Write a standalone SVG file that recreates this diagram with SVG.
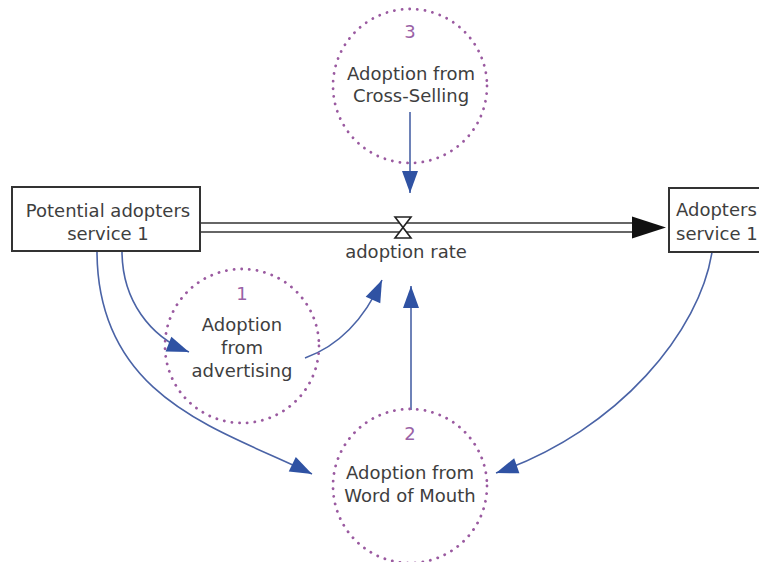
<svg xmlns="http://www.w3.org/2000/svg" width="759" height="562" viewBox="0 0 759 562">
<style>
text{font-family:"DejaVu Sans","Liberation Sans",sans-serif;font-size:18px;fill:#3e3e3e}
.num{fill:#9a62a6}
.c{text-anchor:middle}
.box{fill:#fff;stroke:#333;stroke-width:2}
.cloud{fill:none;stroke:#9a5aa0;stroke-width:2.8;stroke-dasharray:0.1 7.6;stroke-linecap:round}
.link{fill:none;stroke:#4a63a6;stroke-width:1.6}
.pipe{stroke:#333;stroke-width:1.6}
</style>
<defs>
<marker id="ah" markerUnits="userSpaceOnUse" markerWidth="30" markerHeight="22" viewBox="-24 -11 26 22" refX="0" refY="0" orient="auto">
<path d="M0,0 L-22,-8 L-22,8 Z" fill="#2f52a3"/>
</marker>
</defs>
<rect width="759" height="562" fill="#fff"/>
<g id="connectors">
<line class="pipe" x1="200" y1="223" x2="636" y2="223"/>
<line class="pipe" x1="200" y1="232" x2="636" y2="232"/>
<polygon points="632,216.5 666,227.5 632,238.5" fill="#111"/>
<path class="link" d="M410,112 L410,193" marker-end="url(#ah)"/>
<path class="link" d="M411,410 L411,286" marker-end="url(#ah)"/>
<path class="link" d="M305,358 Q355,340 382,280" marker-end="url(#ah)"/>
<path class="link" d="M122,251 C122,300 150,337 189,352" marker-end="url(#ah)"/>
<path class="link" d="M97,251 C97,400 223,430 312,474" marker-end="url(#ah)"/>
<path class="link" d="M712,252 C700,330 620,430 496,473" marker-end="url(#ah)"/>
</g>
<g id="valve">
<path d="M395,217 L411,217 L395,238 L411,238 Z" fill="#fff" stroke="#222" stroke-width="1.6" stroke-linejoin="miter"/>
<text class="c" x="406" y="258">adoption rate</text>
</g>
<g id="potential-adopters">
<rect class="box" x="12" y="187" width="188" height="64"/>
<text class="c" x="108" y="217">Potential adopters</text>
<text class="c" x="108" y="240">service 1</text>
</g>
<g id="adopters">
<rect class="box" x="669" y="188" width="100" height="64"/>
<text x="676" y="216">Adopters</text>
<text x="676" y="240">service 1</text>
</g>
<g id="cross-selling">
<circle class="cloud" cx="410" cy="86" r="77"/>
<text class="c num" x="410" y="38">3</text>
<text class="c" x="411" y="80">Adoption from</text>
<text class="c" x="411" y="102">Cross-Selling</text>
</g>
<g id="advertising">
<circle class="cloud" cx="242" cy="346" r="77"/>
<text class="c num" x="242" y="300">1</text>
<text class="c" x="242" y="331">Adoption</text>
<text class="c" x="242" y="354">from</text>
<text class="c" x="242" y="377">advertising</text>
</g>
<g id="word-of-mouth">
<circle class="cloud" cx="410" cy="486" r="77"/>
<text class="c num" x="410" y="440">2</text>
<text class="c" x="410" y="479">Adoption from</text>
<text class="c" x="410" y="502">Word of Mouth</text>
</g>
</svg>
